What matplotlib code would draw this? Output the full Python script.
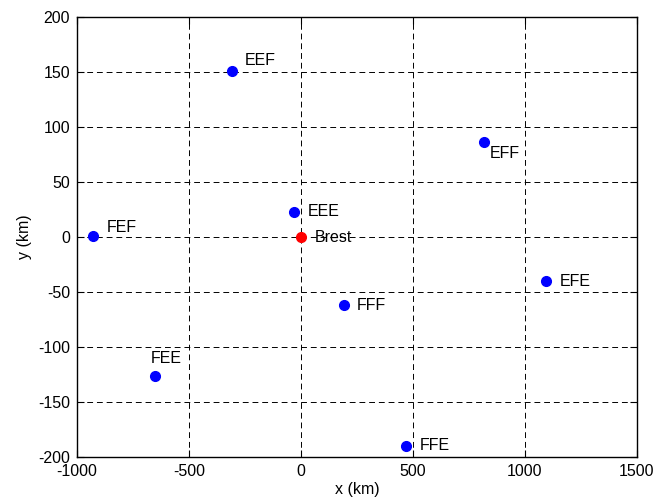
import matplotlib
matplotlib.use("Agg")
import matplotlib.pyplot as plt

names = ["EEF", "EFF", "EEE", "FEF", "EFE", "FFF", "FEE", "FFE"]
xs = [-308, 817, -31, -929, 1094, 192, -652, 469]
ys = [151, 86, 23, 1, -40, -62, -126, -190]
label_offsets = [(13, 10), (6, -11), (14, 0), (14, 8), (14, 0), (13, 0), (-4, 17), (14, 0)]

ref_name = "Brest"
ref_x = [0]
ref_y = [0]

xticks = [-1000, -500, 0, 500, 1000, 1500]
yticks = [-200, -150, -100, -50, 0, 50, 100, 150, 200]

plt.rcParams['font.family'] = ['Liberation Sans', 'DejaVu Sans']
plt.rcParams['font.size'] = 11.5
plt.rcParams['axes.unicode_minus'] = False

fig = plt.figure(figsize=(6.57, 5.03), dpi=100)
ax = fig.add_axes([77/657, 46/503, 560/657, 440/503])

ax.plot(xs, ys, 'o', color='#0000ff', markersize=7, zorder=3)
ax.plot(ref_x, ref_y, 'o', color='#ff0000', markersize=7, zorder=3)

for n, x, y, (dx, dy) in zip(names, xs, ys, label_offsets):
    ax.annotate(n, (x, y), xytext=(dx, dy), textcoords='offset pixels',
                ha='left', va='center', fontsize=11.5)
ax.annotate(ref_name, (ref_x[0], ref_y[0]), xytext=(14, 0), textcoords='offset pixels',
            ha='left', va='center', fontsize=11.5)

ax.set_xlim(-1000, 1500)
ax.set_ylim(-200, 200)
ax.set_xticks(xticks)
ax.set_yticks(yticks)
ax.grid(True, color='black', linestyle=(0, (6, 4)), linewidth=0.7)
ax.tick_params(direction='in', top=True, right=True, length=5, width=0.8, labelsize=11.5, pad=5)
for s in ax.spines.values():
    s.set_linewidth(1.0)
ax.set_xlabel("x (km)", labelpad=2)
ax.set_ylabel("y (km)", labelpad=4)

fig.savefig("out.png", dpi=100)
